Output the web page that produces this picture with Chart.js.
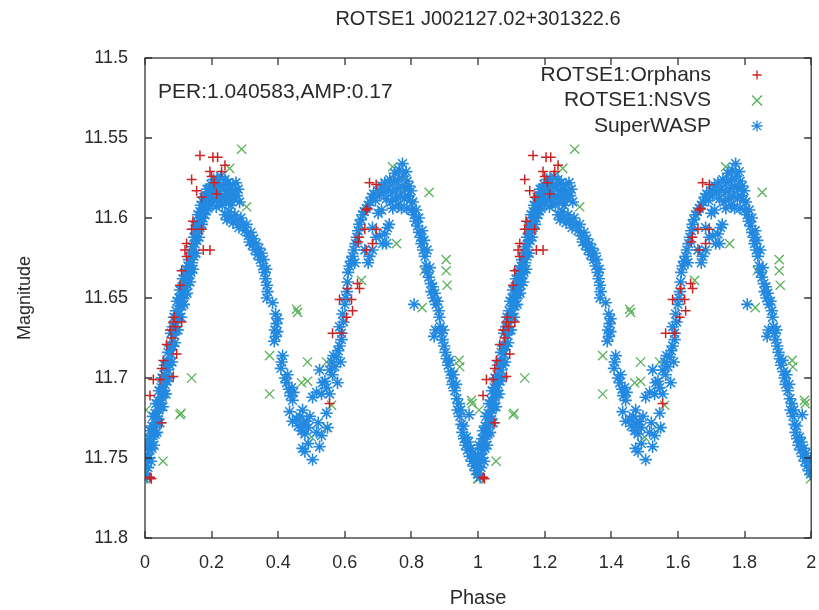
<!DOCTYPE html>
<html lang="en">
<head>
<meta charset="UTF-8">
<title>ROTSE1 J002127.02+301322.6</title>
<script src="https://cdn.jsdelivr.net/npm/chart.js"></script>
<style>
  html, body { margin: 0; padding: 0; background: #fff; }
  canvas { display: block; }
</style>
</head>
<body>
<canvas id="lc" width="819" height="610"></canvas>
<script>
// text + axes
const chartTitle = 'ROTSE1 J002127.02+301322.6';
const infoText = 'PER:1.040583,AMP:0.17';
const xLabel = 'Phase';
const yLabel = 'Magnitude';
const xTicks = [0, 0.2, 0.4, 0.6, 0.8, 1, 1.2, 1.4, 1.6, 1.8, 2];
const yTicks = [11.5, 11.55, 11.6, 11.65, 11.7, 11.75, 11.8];
const seriesNames = ['ROTSE1:Orphans', 'ROTSE1:NSVS', 'SuperWASP'];
const seriesColors = ['#cc2424', '#58b058', '#2389e0'];

// folded light curve, [phase, mag] for one cycle (plotted twice, 0-1 and 1-2)
const orphans = [
  [0.165,11.561],[0.204,11.562],[0.218,11.562],[0.195,11.571],[0.230,11.571],[0.240,11.567],
  [0.200,11.574],[0.208,11.578],[0.140,11.576],[0.155,11.583],[0.170,11.587],[0.215,11.585],
  [0.144,11.602],[0.170,11.607],[0.140,11.607],[0.125,11.616],[0.120,11.620],[0.175,11.620],
  [0.195,11.620],[0.125,11.624],[0.110,11.633],[0.105,11.642],[0.088,11.662],[0.092,11.668],
  [0.085,11.665],[0.075,11.670],[0.110,11.665],[0.080,11.675],[0.065,11.679],[0.095,11.685],
  [0.055,11.689],[0.050,11.694],[0.025,11.701],[0.045,11.701],[0.085,11.699],[0.015,11.711],
  [0.050,11.728],[0.015,11.762],[0.019,11.763],
  [0.674,11.578],[0.694,11.579],[0.664,11.595],[0.668,11.594],[0.660,11.607],[0.694,11.607],
  [0.683,11.616],[0.643,11.612],[0.640,11.615],[0.664,11.620],[0.638,11.641],[0.644,11.644],
  [0.608,11.644],[0.584,11.651],[0.620,11.651],[0.623,11.658],[0.605,11.662],[0.563,11.672],
  [0.590,11.672],[0.554,11.716]
];
const nsvs = [
  [0.290,11.557],[0.254,11.569],[0.305,11.593],[0.743,11.568],[0.853,11.584],[0.755,11.616],
  [0.644,11.604],[0.650,11.639],[0.904,11.626],[0.904,11.633],[0.907,11.642],[0.838,11.633],
  [0.140,11.700],[0.105,11.723],[0.108,11.722],[0.054,11.752],[0.001,11.763],[0.998,11.763],
  [0.003,11.720],[0.455,11.657],[0.458,11.659],[0.374,11.686],[0.374,11.710],[0.488,11.690],
  [0.470,11.703],[0.488,11.702],[0.545,11.690],[0.545,11.731],[0.500,11.737],[0.560,11.717],
  [0.832,11.656],[0.943,11.689],[0.945,11.693],[0.980,11.714],[0.982,11.716]
];
const superwasp = [
  // rising branch
  [0.000,11.748],[0.000,11.760],[0.003,11.742],[0.003,11.755],[0.006,11.750],[0.006,11.762],
  [0.009,11.744],[0.009,11.756],[0.012,11.738],[0.012,11.750],[0.015,11.745],[0.015,11.733],
  [0.018,11.740],[0.018,11.752],[0.021,11.730],[0.021,11.744],[0.024,11.736],[0.024,11.724],
  [0.027,11.731],[0.027,11.742],[0.030,11.722],[0.030,11.735],[0.033,11.728],[0.033,11.716],
  [0.036,11.724],[0.036,11.734],[0.039,11.714],[0.039,11.726],[0.042,11.720],[0.042,11.708],
  [0.045,11.716],[0.045,11.728],[0.048,11.706],[0.048,11.718],[0.051,11.712],[0.051,11.700],
  [0.054,11.708],[0.054,11.718],[0.057,11.698],[0.057,11.710],[0.060,11.704],[0.060,11.692],
  [0.063,11.700],[0.063,11.710],[0.066,11.690],[0.066,11.702],[0.069,11.695],[0.069,11.684],
  [0.072,11.690],[0.072,11.700],[0.075,11.680],[0.075,11.692],[0.078,11.685],[0.078,11.672],
  [0.081,11.680],[0.081,11.690],[0.084,11.668],[0.084,11.680],[0.087,11.673],[0.087,11.662],
  [0.090,11.668],[0.090,11.678],[0.093,11.658],[0.093,11.670],[0.096,11.663],[0.096,11.652],
  [0.099,11.660],[0.099,11.670],[0.102,11.650],[0.102,11.662],[0.105,11.655],[0.105,11.645],
  [0.108,11.652],[0.108,11.662],[0.111,11.643],[0.111,11.655],[0.114,11.648],[0.114,11.638],
  [0.117,11.645],[0.117,11.654],[0.120,11.636],[0.120,11.648],[0.123,11.641],[0.123,11.632],
  [0.126,11.638],[0.126,11.647],[0.129,11.630],[0.129,11.642],[0.132,11.635],[0.132,11.626],
  [0.135,11.632],[0.135,11.640],[0.138,11.622],[0.138,11.634],[0.141,11.628],[0.141,11.618],
  [0.144,11.622],[0.144,11.632],[0.147,11.612],[0.147,11.624],[0.150,11.616],[0.150,11.607],
  [0.153,11.612],[0.153,11.622],[0.156,11.603],[0.156,11.614],[0.159,11.607],[0.159,11.598],
  [0.162,11.604],[0.162,11.612],[0.165,11.596],[0.165,11.606],[0.168,11.600],[0.168,11.592],
  [0.171,11.597],[0.171,11.604],[0.174,11.590],[0.174,11.600],[0.177,11.594],[0.177,11.587],
  [0.180,11.592],[0.180,11.598],[0.183,11.586],[0.183,11.595],[0.186,11.589],[0.186,11.582],
  [0.189,11.588],[0.189,11.594],[0.192,11.582],[0.192,11.590],
  // first maximum
  [0.195,11.585],[0.198,11.579],[0.200,11.590],[0.203,11.583],[0.206,11.576],[0.208,11.588],
  [0.211,11.581],[0.214,11.593],[0.216,11.576],[0.219,11.585],[0.222,11.590],[0.224,11.580],
  [0.227,11.574],[0.230,11.586],[0.232,11.592],[0.235,11.580],[0.238,11.586],[0.240,11.576],
  [0.243,11.590],[0.246,11.583],[0.249,11.578],[0.252,11.588],[0.255,11.582],[0.258,11.592],
  [0.261,11.585],[0.264,11.579],[0.267,11.588],[0.270,11.583],[0.273,11.578],[0.276,11.586],
  [0.280,11.582],[0.284,11.590],
  // descending branch
  [0.240,11.598],[0.246,11.601],[0.252,11.596],[0.258,11.600],[0.264,11.603],[0.270,11.598],
  [0.276,11.602],[0.282,11.606],[0.288,11.600],[0.294,11.604],[0.300,11.608],[0.305,11.604],
  [0.310,11.611],[0.314,11.615],[0.318,11.609],[0.322,11.617],[0.326,11.613],[0.330,11.620],
  [0.334,11.616],[0.338,11.623],[0.342,11.619],[0.346,11.626],[0.350,11.622],[0.353,11.630],
  [0.356,11.626],[0.359,11.634],[0.362,11.638],[0.364,11.632],[0.366,11.642],[0.368,11.646],
  [0.366,11.650],
  // secondary minimum
  [0.383,11.653],[0.392,11.660],[0.395,11.666],[0.398,11.663],[0.390,11.670],[0.393,11.674],
  [0.397,11.671],[0.388,11.677],[0.410,11.690],[0.413,11.686],[0.408,11.694],[0.420,11.700],
  [0.425,11.703],[0.428,11.698],[0.432,11.707],[0.436,11.711],[0.440,11.706],[0.443,11.714],
  [0.446,11.709],[0.434,11.721],[0.443,11.727],[0.455,11.726],[0.460,11.730],[0.465,11.724],
  [0.470,11.733],[0.473,11.720],[0.476,11.729],[0.480,11.735],[0.485,11.727],[0.490,11.731],
  [0.495,11.724],[0.473,11.744],[0.480,11.746],[0.490,11.741],[0.503,11.751],[0.515,11.734],
  [0.520,11.728],[0.524,11.743],[0.530,11.736],[0.503,11.712],[0.515,11.709],[0.530,11.710],
  [0.540,11.702],[0.545,11.722],[0.548,11.731],[0.554,11.710],[0.545,11.706],[0.524,11.695],
  [0.533,11.703],[0.554,11.695],[0.560,11.690],[0.563,11.698],[0.566,11.686],[0.570,11.693],
  [0.575,11.687],[0.578,11.703],[0.580,11.683],[0.584,11.680],[0.587,11.690],[0.590,11.676],
  [0.584,11.668],[0.590,11.672],[0.593,11.660],[0.596,11.665],[0.600,11.654],[0.603,11.650],
  [0.606,11.646],[0.608,11.640],
  // rising to second maximum
  [0.610,11.634],[0.614,11.630],[0.618,11.627],[0.623,11.624],[0.627,11.620],[0.632,11.616],
  [0.636,11.612],[0.640,11.608],[0.644,11.604],[0.648,11.601],[0.653,11.598],[0.658,11.596],
  [0.664,11.594],[0.670,11.592],[0.676,11.590],[0.680,11.587],[0.686,11.585],[0.692,11.589],
  [0.698,11.583],[0.704,11.586],[0.710,11.580],[0.716,11.584],
  [0.630,11.628],[0.660,11.620],[0.670,11.628],[0.674,11.624],[0.683,11.620],[0.683,11.606],
  [0.694,11.612],[0.704,11.611],[0.713,11.616],[0.720,11.610],[0.725,11.616],[0.728,11.606],
  [0.733,11.604],[0.700,11.597],[0.710,11.595],
  // second maximum
  [0.720,11.578],[0.725,11.588],[0.730,11.582],[0.735,11.576],[0.738,11.590],[0.742,11.584],
  [0.746,11.578],[0.750,11.572],[0.752,11.588],[0.756,11.582],[0.760,11.576],[0.763,11.570],
  [0.766,11.586],[0.770,11.580],[0.773,11.566],[0.775,11.574],[0.778,11.588],[0.781,11.582],
  [0.784,11.571],[0.787,11.577],[0.790,11.586],[0.793,11.580],[0.796,11.589],[0.799,11.583],
  [0.744,11.594],[0.760,11.592],[0.770,11.594],[0.786,11.594],
  // decline to primary minimum
  [0.800,11.595],[0.804,11.590],[0.808,11.598],[0.812,11.602],[0.814,11.595],[0.818,11.605],
  [0.822,11.600],[0.823,11.609],[0.827,11.612],[0.830,11.616],[0.832,11.608],[0.835,11.620],
  [0.838,11.614],[0.840,11.624],[0.844,11.630],[0.847,11.620],[0.848,11.634],[0.852,11.637],
  [0.855,11.631],[0.858,11.641],[0.860,11.646],[0.864,11.643],[0.866,11.650],[0.870,11.647],
  [0.874,11.654],[0.878,11.652],[0.882,11.658],[0.884,11.662],[0.887,11.668],[0.890,11.672],
  [0.893,11.676],[0.896,11.670],[0.898,11.680],[0.868,11.674],[0.872,11.670],[0.808,11.654],
  [0.902,11.684],[0.906,11.688],[0.910,11.692],[0.914,11.689],[0.917,11.696],[0.920,11.700],
  [0.923,11.704],[0.926,11.698],[0.930,11.708],[0.934,11.704],[0.936,11.713],[0.938,11.720],
  [0.942,11.716],[0.945,11.724],[0.948,11.720],[0.950,11.729],[0.953,11.734],[0.956,11.730],
  [0.958,11.738],[0.962,11.742],[0.965,11.737],[0.968,11.745],[0.971,11.740],[0.973,11.723],
  [0.975,11.749],[0.978,11.744],[0.981,11.752],[0.984,11.747],[0.987,11.755],[0.990,11.750],
  [0.993,11.758],[0.996,11.752],[0.998,11.760]
];

const FONT = "'Liberation Sans', Arial, sans-serif";
const TXT = '#2a2a2a';

// same points shown at phase p and p+1
function twoCycles(pts) {
  return pts.map(p => ({ x: p[0], y: p[1] })).concat(pts.map(p => ({ x: p[0] + 1, y: p[1] })));
}

function marker(ctx, kind, cx, cy, r) {
  ctx.beginPath();
  if (kind !== 'x') {
    ctx.moveTo(cx - r, cy); ctx.lineTo(cx + r, cy);
    ctx.moveTo(cx, cy - r); ctx.lineTo(cx, cy + r);
  }
  if (kind !== '+') {
    const d = kind === 'x' ? r : r * 0.75;
    ctx.moveTo(cx - d, cy - d); ctx.lineTo(cx + d, cy + d);
    ctx.moveTo(cx - d, cy + d); ctx.lineTo(cx + d, cy - d);
  }
  ctx.stroke();
}

const decor = {
  id: 'decor',
  afterDatasetsDraw(chart) {
    const { ctx, chartArea: a, scales: { x, y } } = chart;
    ctx.save();
    // frame + inward ticks, mirrored like gnuplot
    ctx.strokeStyle = '#333';
    ctx.lineWidth = 1.3;
    ctx.strokeRect(a.left, a.top, a.right - a.left, a.bottom - a.top);
    ctx.beginPath();
    xTicks.forEach(v => {
      const px = Math.round(x.getPixelForValue(v));
      ctx.moveTo(px, a.bottom); ctx.lineTo(px, a.bottom - 7);
      ctx.moveTo(px, a.top); ctx.lineTo(px, a.top + 7);
    });
    yTicks.forEach(v => {
      const py = Math.round(y.getPixelForValue(v));
      ctx.moveTo(a.left, py); ctx.lineTo(a.left + 7, py);
      ctx.moveTo(a.right, py); ctx.lineTo(a.right - 7, py);
    });
    ctx.stroke();

    ctx.fillStyle = TXT;
    ctx.textBaseline = 'middle';
    ctx.textAlign = 'center';
    ctx.font = '20px ' + FONT;
    ctx.fillText(chartTitle, 478, 19);
    ctx.font = '20px ' + FONT;
    ctx.fillText(xLabel, 478, 598);
    ctx.save();
    ctx.font = '18px ' + FONT;
    ctx.translate(25, 298);
    ctx.rotate(-Math.PI / 2);
    ctx.fillText(yLabel, 0, 0);
    ctx.restore();

    ctx.font = '21px ' + FONT;
    ctx.textAlign = 'left';
    ctx.fillText(infoText, 158, 92);

    // key, top right
    const kinds = ['+', 'x', '*'];
    const sizes = [4.5, 5, 5.5];
    ctx.textAlign = 'right';
    seriesNames.forEach((name, i) => {
      const ky = 75 + i * 25.5;
      ctx.fillStyle = TXT;
      ctx.fillText(name, 711, ky);
      ctx.strokeStyle = seriesColors[i];
      ctx.lineWidth = 1.4;
      marker(ctx, kinds[i], 757, ky, sizes[i]);
    });
    ctx.restore();
  }
};

new Chart(document.getElementById('lc'), {
  type: 'scatter',
  data: {
    datasets: [
      { label: seriesNames[0], data: twoCycles(orphans), pointStyle: 'cross', pointRadius: 5,
        borderColor: seriesColors[0], backgroundColor: seriesColors[0], borderWidth: 1.5, order: 0 },
      { label: seriesNames[1], data: twoCycles(nsvs), pointStyle: 'crossRot', pointRadius: 6.5,
        borderColor: seriesColors[1], backgroundColor: seriesColors[1], borderWidth: 1.3, order: 2 },
      { label: seriesNames[2], data: twoCycles(superwasp), pointStyle: 'star', pointRadius: 6.2,
        borderColor: seriesColors[2], backgroundColor: seriesColors[2], borderWidth: 1.6, order: 1 }
    ]
  },
  options: {
    responsive: false,
    animation: false,
    devicePixelRatio: 1,
    layout: { padding: { top: 58, right: 6, left: 0, bottom: 0 } },
    plugins: { legend: { display: false }, title: { display: false }, tooltip: { enabled: false } },
    scales: {
      x: {
        type: 'linear', min: 0, max: 2,
        afterBuildTicks: s => { s.ticks = xTicks.map(v => ({ value: v })); },
        afterFit: s => { s.height = 72; s.paddingLeft = 0; s.paddingRight = 0; },
        grid: { display: false, drawTicks: false },
        border: { display: false },
        ticks: { autoSkip: false, maxRotation: 0, padding: 14, color: TXT,
                 font: { family: FONT, size: 18 },
                 callback: v => String(Math.round(v * 10) / 10) }
      },
      y: {
        type: 'linear', min: 11.5, max: 11.8, reverse: true,
        afterBuildTicks: s => { s.ticks = yTicks.map(v => ({ value: v })); },
        afterFit: s => { s.width = 145; s.paddingTop = 0; s.paddingBottom = 0; },
        grid: { display: false, drawTicks: false },
        border: { display: false },
        ticks: { padding: 17, color: TXT, font: { family: FONT, size: 18 },
                 callback: v => String(Math.round(v * 100) / 100) }
      }
    }
  },
  plugins: [decor]
});
</script>
</body>
</html>
